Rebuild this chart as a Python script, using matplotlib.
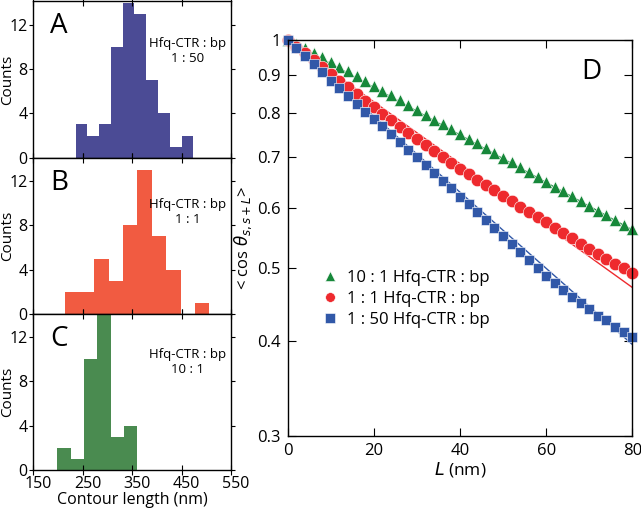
import numpy as np
import matplotlib.pyplot as plt
import matplotlib.transforms as mtransforms

plt.rcParams['font.family'] = ['Open Sans', 'DejaVu Sans']
plt.rcParams['mathtext.fontset'] = 'dejavusans'

# histograms: bin edges (nm) and counts
edges_a = [236, 260, 284, 308, 331, 355, 379, 403, 427, 451, 474]
counts_a = [3, 2, 3, 10, 14, 13, 7, 4, 1, 2]
edges_b = [215, 244, 274, 303, 332, 361, 390, 419, 448, 477, 506]
counts_b = [2, 2, 5, 3, 8, 13, 7, 4, 0, 1]
edges_c = [199, 226, 253, 280, 307, 334, 361]
counts_c = [2, 1, 10, 14, 3, 4]

# correlation data, L = 0..80 nm every 2 nm
L = np.arange(0, 82, 2)
green = [1.000, 0.988, 0.975, 0.962, 0.949, 0.936, 0.922, 0.909, 0.896, 0.883,
         0.870, 0.857, 0.845, 0.833, 0.821, 0.809, 0.797, 0.785, 0.774, 0.763,
         0.752, 0.741, 0.730, 0.720, 0.709, 0.699, 0.689, 0.679, 0.669, 0.659,
         0.650, 0.640, 0.631, 0.622, 0.613, 0.604, 0.595, 0.587, 0.578, 0.570, 0.562]
red = [1.000, 0.980, 0.960, 0.941, 0.922, 0.903, 0.884, 0.866, 0.848, 0.831,
       0.815, 0.799, 0.783, 0.768, 0.753, 0.740, 0.726, 0.713, 0.701, 0.688,
       0.676, 0.665, 0.654, 0.643, 0.633, 0.622, 0.612, 0.602, 0.592, 0.583,
       0.574, 0.565, 0.556, 0.547, 0.538, 0.530, 0.522, 0.514, 0.506, 0.499, 0.492]
blue = [1.000, 0.975, 0.952, 0.929, 0.906, 0.884, 0.863, 0.843, 0.823, 0.804,
        0.786, 0.769, 0.751, 0.733, 0.716, 0.700, 0.684, 0.668, 0.652, 0.637,
        0.621, 0.607, 0.592, 0.578, 0.564, 0.551, 0.537, 0.524, 0.512, 0.500,
        0.488, 0.478, 0.468, 0.458, 0.449, 0.441, 0.432, 0.426, 0.418, 0.411, 0.405]

# fitted exponential lines (end points)
fit_L = [0, 80]
fit_green = [1.0, 0.561]
fit_red = [1.0, 0.471]
fit_blue = [1.0, 0.396]

labels = ['10 : 1 Hfq-CTR : bp', '1 : 1 Hfq-CTR : bp', '1 : 50 Hfq-CTR : bp']
c_green = '#17883a'
c_red = '#ee2a2e'
c_blue = '#3158a8'

fig = plt.figure(figsize=(6.41, 5.08), dpi=100)

hists = [
    (edges_a, counts_a, '#4b4b95', 'A', '1 : 50'),
    (edges_b, counts_b, '#f15b41', 'B', '1 : 1'),
    (edges_c, counts_c, '#4a8b50', 'C', '10 : 1'),
]
x0, w = 33 / 641, 198 / 641
h = 156.3 / 508
bottoms = [1 - 157.7 / 508, 1 - 314 / 508, 1 - 470 / 508]
txt_y = [0.68, 0.65, 0.69]
for i, (edges, counts, col, letter, ratio) in enumerate(hists):
    ax = fig.add_axes([x0, bottoms[i], w, h])
    ax.bar(edges[:-1], counts, width=np.diff(edges), align='edge', color=col, linewidth=0)
    ax.set_xlim(150, 550)
    ax.set_ylim(0, 14.1)
    ax.set_yticks([0, 4, 8, 12])
    ax.set_xticks([150, 250, 350, 450, 550])
    ax.tick_params(axis='y', which='both', right=True, direction='out', length=3, labelsize=11.5, pad=1)
    ax.tick_params(axis='x', top=True, direction='inout', length=7, labelsize=11.5, pad=1)
    for s in ax.spines.values():
        s.set_linewidth(1.0)
    ax.set_ylabel('Counts', fontsize=11)
    ax.yaxis.set_label_coords(-0.088, 0.5)
    ax.text(0.085, 0.84, letter, transform=ax.transAxes, fontsize=20, ha='left', va='center')
    ax.text(0.78, txt_y[i], 'Hfq-CTR : bp\n' + ratio, transform=ax.transAxes, fontsize=9.5,
            ha='center', va='center', linespacing=1.2)
    if i < 2:
        ax.tick_params(axis='x', labelbottom=False)
    else:
        ax.set_xlabel('Contour length (nm)', fontsize=11.5, labelpad=0)
        # labels sit a little right of their ticks in the original
        shift = mtransforms.ScaledTranslation(5 / 100, 0, fig.dpi_scale_trans)
        for lab in ax.get_xticklabels():
            lab.set_transform(lab.get_transform() + shift)

# panel D
ax = fig.add_axes([287.7 / 641, 1 - 435.7 / 508, 344.6 / 641, 395.7 / 508])
ax.set_yscale('log')
ax.plot(fit_L, fit_green, color=c_green, lw=1.0)
ax.plot(fit_L, fit_red, color=c_red, lw=1.0)
ax.plot(fit_L, fit_blue, color=c_blue, lw=1.0)
ax.plot(L, green, '^', color=c_green, ms=8.5, mew=0.4, mec='white', clip_on=False, label=labels[0])
ax.plot(L, red, 'o', color=c_red, ms=9, mew=0.4, mec='white', clip_on=False, label=labels[1])
ax.plot(L, blue, 's', color=c_blue, ms=7.3, mew=0.4, mec='white', clip_on=False, label=labels[2])
ax.set_xlim(0, 80)
ax.set_ylim(0.3, 1.0)
yt = [0.3, 0.4, 0.5, 0.6, 0.7, 0.8, 0.9, 1.0]
ax.set_yticks(yt)
ax.set_yticklabels(['0.3', '0.4', '0.5', '0.6', '0.7', '0.8', '0.9', '1'])
ax.minorticks_off()
ax.set_xticks([0, 20, 40, 60, 80])
ax.tick_params(which='both', direction='in', top=True, right=True, length=6, labelsize=12, pad=5)
for s in ax.spines.values():
    s.set_linewidth(1.0)
ax.set_xlabel('$L$ (nm)', fontsize=12.5, labelpad=1)
ax.set_ylabel(r'< cos $\theta_{s,s+L}$>', fontsize=12, labelpad=2)
ax.text(0.882, 0.92, 'D', transform=ax.transAxes, fontsize=20, ha='center', va='center')
leg = ax.legend(loc='upper left', bbox_to_anchor=(0.1, 0.418), frameon=False, fontsize=12,
                handlelength=1.0, handletextpad=0.5, labelspacing=0.28, borderpad=0, borderaxespad=0)
for hd in leg.legend_handles:
    hd.set_markersize(7)

fig.savefig('out.png', dpi=100)
